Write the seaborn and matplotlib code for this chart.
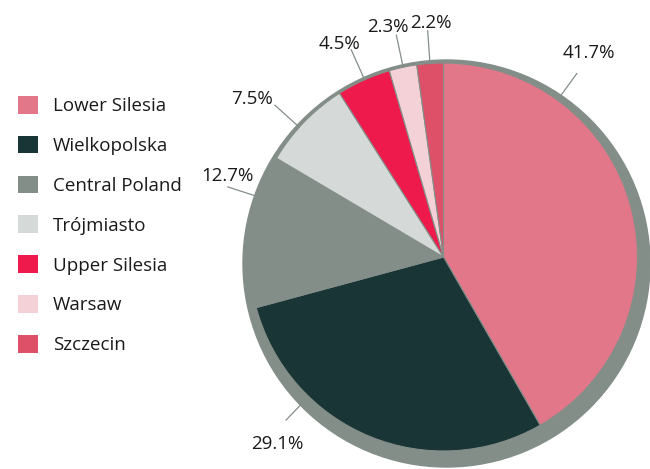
#import libraries
import seaborn as sns
import matplotlib.pyplot as plt
import numpy as np
from matplotlib.patches import Circle, Patch

#set global styles
sns.set_theme(style="white")
plt.rcParams['font.family'] = ['Open Sans', 'DejaVu Sans']

#data: share of each region (%)
regions = ["Lower Silesia", "Wielkopolska", "Central Poland", "Trójmiasto",
           "Upper Silesia", "Warsaw", "Szczecin"]
shares = [41.7, 29.1, 12.7, 7.5, 4.5, 2.3, 2.2]
pct_labels = ["41.7%", "29.1%", "12.7%", "7.5%", "4.5%", "2.3%", "2.2%"]
colors = ["#E17788", "#193535", "#848E89", "#D5D9D8",
          "#EE1A4B", "#F4D0D7", "#DE4F68"]

#label layout (degrees clockwise from 12 o'clock, distance in radii)
leader_angle = [36, 224, 288, 312, 336, 348, 356]
text_angle = [35.5, 221.5, 290.5, 309.4, 334, 346.3, 357]
text_dist = [1.29, 1.29, 1.19, 1.28, 1.22, 1.22, 1.21]

grey = "#848E89"
W, H = 650, 469
cx, cy, r = 443.5, H - 257, 194
fs = 13.5

fig = plt.figure(figsize=(W / 100, H / 100), dpi=100)
ax = fig.add_axes([0, 0, 1, 1])

#shadow behind the pie
ax.add_patch(Circle((446.5, H - 263.5), 203.5, color=grey, zorder=0))

wedges, _ = ax.pie(shares,
                   colors=colors,
                   startangle=90,
                   counterclock=False,
                   center=(cx, cy),
                   radius=r,
                   wedgeprops=dict(edgecolor=grey, linewidth=0.8))

#percentage labels with leader lines
for lbl, la, ta, td in zip(pct_labels, leader_angle, text_angle, text_dist):
    a = np.deg2rad(la)
    ux, uy = np.sin(a), np.cos(a)
    ax.plot([cx + ux * r * 1.0, cx + ux * r * 1.17],
            [cy + uy * r * 1.0, cy + uy * r * 1.17],
            color=grey, linewidth=0.9, zorder=3)
    b = np.deg2rad(ta)
    ax.text(cx + np.sin(b) * r * td, cy + np.cos(b) * r * td, lbl,
            ha="center", va="center", fontsize=fs, color="#1a1a1a")

ax.set_xlim(0, W)
ax.set_ylim(0, H)
ax.set_aspect("equal")
ax.axis("off")

#legend with square swatches
handles = [Patch(facecolor=c, edgecolor="none") for c in colors]
fig.legend(handles, regions,
           loc="upper left",
           bbox_to_anchor=(18 / W, 1 - 96 / H),
           frameon=False,
           borderpad=0,
           borderaxespad=0,
           fontsize=fs,
           handlelength=1.07,
           handleheight=1.07,
           handletextpad=0.8,
           labelspacing=1.1,
           labelcolor="#1a1a1a")

plt.savefig("out.png", dpi=100)
